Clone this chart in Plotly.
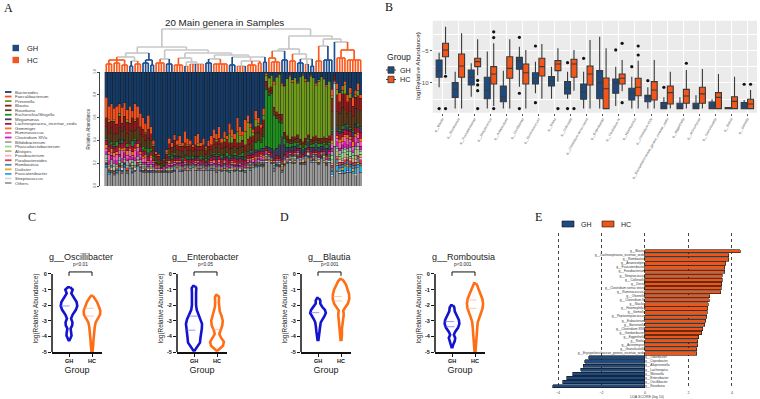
import numpy as np
import plotly.graph_objects as go

W, H = 760, 399
def X(px): return px / W
def Y(py): return 1 - py / H

SANS = "Liberation Sans, Arial, sans-serif"
SERIF = "Liberation Serif, Times New Roman, serif"
GH_COL = "#1d4a80"
HC_COL = "#f1561d"

# ---------------- Panel A : 20 main genera ----------------
genera = ["Bacteroides", "Faecalibacterium", "Prevotella", "Blautia", "Roseburia",
          "Escherichia/Shigella", "Megamonas", "Lachnospiracea_incertae_sedis", "Gemmiger",
          "Ruminococcus", "Clostridium XlVa", "Bifidobacterium", "Phascolarctobacterium",
          "Alistipes", "Fusobacterium", "Parabacteroides", "Romboutsia", "Dialister",
          "Fusicatenibacter", "Streptococcus", "Others"]
genus_colors = ["#163a66", "#f0501e", "#6f9a1c", "#8c1c1c", "#5a3a1a", "#1f8f1f", "#3d3d5c",
                "#b0143a", "#f07820", "#f25fb0", "#e01ab8", "#a6a6a6", "#8fdc9a", "#c2b27a",
                "#f2b3c6", "#e23b3b", "#4a86b8", "#f5a21e", "#28a8f0", "#d8d8d8", "#9a9a9a"]

# sample groups in dendrogram order (H = HC, G = GH)
groups = ("HHHHHHHHH" "GG" "HHH" "GGGGG" "HHHH" "GGG" "HHHH" "G" "HHH" "G" "HHH" "GGG"
          "HHHHHH" "GGG" "HHH" "G" "HHHHHH" "GG" "HHHHH" "GGG" "HHH" "GGG" "H" "GGG"
          "HHH" "GGGGG" "HHHHHHHHHH")

bacteroides = [22,30,28,32,30,28,31,27,33,30,34,28,30,36,
               40,45,38,48,60,70,72,78,76,68,58,62,
               55,60,56,62,52,58,60,64,56,54,62,58,65,60,56,
               50,54,48,58,52,56,45,50,54,40,48,52,42,38,45,50,34,40,46,32,
               1,5,3,8,4,2,10,12,6,3,7,5,9,4,2,6,8,3,5,10,7,4,6,11,8,
               15,3,10,18,12,8,20,14,22,16,10,20]
faecalibacterium = [18,12,15,10,16,8,14,12,9,15,6,14,10,12,
                    10,8,12,6,4,2,2,0,1,3,5,4,
                    5,4,8,3,10,6,4,2,8,9,3,6,2,5,8,
                    8,5,10,4,6,3,9,7,5,12,8,4,10,6,4,3,8,5,3,6,
                    2,1,0,3,1,0,2,1,0,1,2,0,1,0,1,2,0,1,0,2,1,0,1,2,0,
                    6,0,5,8,4,3,6,5,8,4,6,3]
prevotella = [0,2,0,1,0,3,0,0,2,0,0,1,0,0,
              0,1,0,0,1,0,0,0,0,1,0,0,
              0,0,1,0,0,1,0,0,0,2,0,0,1,0,0,
              0,2,0,0,3,0,8,5,0,10,6,4,12,15,8,3,6,2,0,4,
              5,8,10,20,30,35,25,40,50,55,48,52,45,55,58,50,47,55,52,44,50,54,50,45,48,
              2,0,5,0,3,8,0,4,0,2,5,0]
blautia = [8,10,6,12,8,10,7,9,10,6,12,8,9,7,
           7,6,8,6,4,3,3,2,2,3,4,4,
           5,4,4,5,4,4,5,4,4,4,4,5,4,4,4,
           6,5,6,5,5,6,5,5,6,5,4,5,5,5,6,5,6,6,6,7,
           4,3,3,4,3,3,5,2,3,2,3,2,3,2,2,3,2,2,3,3,2,3,2,3,3,
           12,2,15,10,12,14,10,12,9,10,12,11]
roseburia = [10,8,12,9,7,10,8,11,9,10,8,7,10,9,
             8,7,9,7,5,3,3,2,2,3,5,4,
             6,5,5,5,6,5,5,4,5,5,5,5,4,5,5,
             7,6,7,6,6,6,6,6,6,7,6,6,6,6,6,7,8,7,7,8,
             3,4,3,3,3,4,3,3,3,2,3,3,4,3,3,3,2,3,3,3,3,2,3,3,3,
             15,2,12,14,16,12,10,14,12,13,12,14]
escherichia = [2,0,3,1,4,0,2,1,3,0,5,2,1,0,
               3,2,4,2,2,1,1,1,1,1,2,2,
               2,1,0,2,1,2,1,2,1,0,2,1,2,1,0,
               1,2,1,2,0,3,2,1,2,1,2,3,1,0,2,1,6,8,5,10,
               50,45,48,30,26,20,12,6,4,3,2,3,2,3,2,3,2,2,3,2,3,2,2,3,2,
               2,0,1,2,3,1,2,1,2,1,2,1]
megamonas = [0,3,0,2,0,4,1,0,0,2,0,3,0,1,
             2,0,3,1,0,1,0,1,0,0,2,1,
             2,2,1,2,2,1,2,1,2,1,2,2,1,2,2,
             2,3,2,2,3,2,3,2,3,2,2,3,2,3,2,3,3,2,3,3,
             2,3,4,8,6,10,20,8,4,3,5,4,3,4,4,3,5,4,3,5,4,3,4,5,4,
             3,0,4,2,3,4,3,2,4,3,2,4]
lachnospiracea = [4,5,3,4,5,3,4,6,3,4,5,4,3,5,
                  4,3,4,3,2,2,1,1,1,2,2,2,
                  3,2,3,2,3,2,3,2,2,3,2,3,2,2,3,
                  3,2,3,3,2,3,3,2,3,3,3,2,3,3,2,3,3,3,2,3,
                  2,2,2,2,3,2,2,2,2,2,2,2,2,2,1,2,2,2,2,2,2,2,2,2,2,
                  5,1,4,5,4,5,4,5,4,5,4,5]
gemmiger = [3,2,4,3,2,3,2,3,4,2,3,2,3,2,
            2,3,1,2,1,1,1,0,1,1,2,1,
            1,1,1,0,1,1,1,0,1,1,0,1,0,1,1,
            1,1,2,1,1,1,1,1,2,1,1,1,1,2,1,2,2,1,2,2,
            1,1,0,1,1,0,1,1,1,0,1,1,0,1,1,0,1,1,0,1,1,0,1,1,0,
            3,0,2,3,4,2,3,2,4,3,2,3]
ruminococcus = [3,6,2,4,6,3,7,2,3,5,2,6,4,3,
                3,4,2,3,2,1,1,1,1,1,2,2,
                2,1,1,1,2,1,1,1,2,1,1,1,1,1,2,
                2,1,2,1,2,1,1,2,1,1,2,1,1,1,2,2,1,2,2,2,
                1,0,1,1,0,1,1,0,1,1,0,1,1,0,1,1,0,1,1,0,1,1,0,1,1,
                4,0,3,5,3,4,6,3,4,5,3,4]
clostridium_xlva = [2,3,4,2,3,2,3,4,2,3,2,3,4,2,
                    2,2,2,3,2,1,1,0,1,1,1,1,
                    1,1,2,1,1,1,0,1,1,2,1,0,1,1,1,
                    1,2,1,1,1,2,1,1,1,1,1,2,1,1,1,1,2,1,2,1,
                    1,1,1,0,1,1,0,1,1,1,1,0,1,1,0,1,1,1,0,1,1,0,1,1,1,
                    3,0,4,2,3,5,3,4,2,3,4,3]
bifidobacterium = [4,2,5,3,2,4,3,2,4,3,2,4,3,2,
                   2,2,1,2,1,1,1,1,1,1,1,1,
                   1,1,1,1,1,1,1,1,1,1,1,1,1,1,1,
                   1,1,1,1,1,1,1,1,1,1,1,1,1,1,2,1,1,2,1,1,
                   2,1,1,2,1,1,2,1,2,1,2,1,1,2,1,2,1,1,2,1,2,1,1,2,1,
                   3,2,2,3,4,2,3,4,2,3,3,2]
phascolarctobacterium = [2,0,1,3,0,2,1,0,2,0,3,1,0,2,
                         1,1,1,1,1,0,0,0,0,1,1,1,
                         1,0,1,0,1,0,1,0,1,0,1,0,0,1,0,
                         1,0,1,0,1,0,1,0,1,0,1,0,1,0,1,1,0,1,1,1,
                         1,1,0,1,1,2,1,1,0,1,1,2,1,0,1,1,2,0,1,1,0,1,2,1,1,
                         4,0,3,2,5,3,2,4,3,5,3,2]
alistipes = [1,2,1,0,2,1,1,2,0,1,2,1,1,2,
             1,1,0,1,1,0,1,0,0,1,1,1,
             0,1,0,1,0,1,0,1,0,1,0,1,0,0,1,
             0,1,0,1,0,1,0,1,0,1,0,1,0,1,1,0,1,1,0,1,
             1,0,1,1,0,1,1,2,1,1,0,1,1,1,2,1,0,1,1,1,2,1,1,0,1,
             3,0,4,3,2,4,3,2,3,4,5,3]
fusobacterium = [1,0,2,1,0,1,2,1,0,1,0,2,1,0,
                 1,0,1,1,0,1,0,0,0,0,1,0,
                 1,0,1,0,0,1,0,0,1,0,0,1,0,1,0,
                 1,0,1,0,1,0,0,1,0,0,1,0,0,1,0,1,0,1,1,0,
                 0,1,0,0,1,0,0,1,0,0,1,0,0,1,0,0,1,0,0,1,0,0,1,0,0,
                 2,0,1,2,1,2,1,2,1,2,1,2]
parabacteroides = [1,1,0,2,1,1,0,1,2,1,1,0,2,1,
                   1,1,1,0,1,0,0,1,0,0,0,1,
                   0,1,0,1,1,0,1,0,0,1,1,0,1,0,1,
                   0,1,0,1,0,1,0,0,1,0,0,1,0,1,1,0,1,0,1,1,
                   1,0,1,1,0,1,1,0,1,1,0,1,1,0,1,1,0,1,1,0,1,1,0,1,1,
                   2,0,2,3,2,3,2,3,2,3,2,3]
romboutsia = [2,1,0,1,2,0,1,2,1,0,2,1,0,2,
              0,1,0,1,0,1,0,0,1,0,0,0,
              1,0,1,0,1,0,0,1,0,1,0,0,1,0,1,
              1,0,1,0,1,0,1,0,0,1,0,0,1,0,1,1,1,0,1,1,
              1,1,0,1,1,0,1,1,0,1,1,0,1,1,0,1,1,0,1,1,0,1,1,0,1,
              2,0,3,2,3,2,3,2,3,2,3,2]
dialister = [0,1,0,1,0,1,0,0,1,0,1,0,1,0,
             0,1,0,0,0,0,1,0,0,0,1,0,
             0,1,0,0,0,1,0,0,1,0,0,1,0,0,0,
             0,1,0,0,1,0,0,1,0,0,1,0,0,1,0,0,1,0,0,1,
             0,1,1,0,0,1,0,1,0,0,1,1,0,0,1,0,1,0,0,1,0,0,1,1,0,
             1,0,2,1,2,1,2,1,2,1,2,1]
fusicatenibacter = [1,2,1,0,1,2,1,1,0,2,1,0,1,1,
                    1,0,1,1,0,0,0,0,0,1,0,1,
                    1,0,0,1,0,0,1,0,0,0,1,0,0,1,0,
                    1,0,0,1,0,1,0,0,1,0,0,1,0,0,1,0,0,1,0,0,
                    0,0,1,0,1,0,0,0,1,0,0,1,0,1,0,0,0,1,0,0,1,0,0,0,1,
                    3,0,4,2,3,5,3,4,2,4,3,5]
streptococcus = [1,0,1,0,1,0,1,0,1,0,1,0,1,0,
                 0,0,0,0,1,0,0,0,0,0,0,0,
                 0,0,1,0,0,0,0,1,0,0,0,0,0,0,0,
                 0,1,0,0,0,0,1,0,0,0,0,0,1,0,0,1,0,0,1,0,
                 1,0,0,1,0,0,1,0,0,1,0,0,1,0,0,1,0,0,1,0,0,1,0,0,1,
                 2,55,1,2,0,1,2,0,1,2,1,0]

middle = [faecalibacterium, prevotella, blautia, roseburia, escherichia, megamonas,
          lachnospiracea, gemmiger, ruminococcus, clostridium_xlva, bifidobacterium,
          phascolarctobacterium, alistipes, fusobacterium, parabacteroides, romboutsia,
          dialister, fusicatenibacter, streptococcus]
n_samples = len(bacteroides)
others = [100 - bacteroides[i] - sum(m[i] for m in middle) for i in range(n_samples)]
assert min(others) >= 0, others
series_A = [bacteroides] + middle + [others]

# dendrogram: [height, child, child, ...]; leaves are sample indices
tree = [43,
        [25,
         [19,
          [15, [12, [8, 0, 1, 2], [9, 3, 4, 5], [7, 6, 7, 8]], [11, [6, 9, 10], [8, 11, 12, 13]]],
          [12, [9, 14, 15, 16], [7, 17, 18]]],
         [22,
          [13, [9, 19, 20, 21, 22], [8, 23, 24, 25]],
          [19,
           [14, [7, 26, 27, 28, 29], [10, [6, 30, 31], [8, 32, 33, 34, 35, 36, 37]]],
           [17,
            [13, [9, 38, 39, 40], [8, 41, 42, 43, 44, 45, 46]],
            [15, [7, 47, 48, 49], [11, [6, 50, 51, 52, 53], [7, 54, 55, 56, 57], [9, 58, 59]],
             [10, 60, 61]]]]]],
        [36,
         [23,
          [21, [14, 62, [10, 63, 64, 65, 66]], [12, 67, 68, 69]],
          [18, [11, 70, 71, 72], [13, [9, 73, 74, 75], [8, 76, 77], [6, 78, 79]]]],
         [33,
          [26, [11, 80, 81, 82], [12, 83, 84, 85, 86]],
          [30, 87, [22, [14, 88, 89, 90, 91], [12, 92, 93, 94, 95, 96, 97]]]]]]

# ---------------- Panel B : box plots ----------------
b_genera = ["g__Blautia", "g__Romboutsia", "g__Fusicatenibacter", "g__Streptococcus",
            "g__Anaerostipes", "g__Oscillibacter", "g__Ruminococcus2", "g__Dorea",
            "g__Collinsella", "g__Clostridium sensu stricto", "g__Enterobacter",
            "g__Clostridium IV", "g__Haemophilus", "g__Clostridium XlVb",
            "g__Erysipelotrichaceae_genera_incertae_sedis", "g__Eggerthella",
            "g__Actinomyces", "g__Granulicatella", "g__Rothia", "g__Gemella"]
gh_q1 = [-9.11,-12.24,-10.31,-12.45,-12.92,-7.86,-10.16,-10.47,-11.72,-12.55,-12.45,-11.6,-12.66,-12.92,-14.0,-14.0,-14.0,-14.0,-14.0,-14.0]
gh_med = [-8.13,-10.99,-9.11,-11.09,-12.14,-6.5,-9.27,-9.64,-10.83,-11.35,-9.95,-9.95,-11.5,-12.14,-13.7,-13.7,-13.7,-13.6,-14.0,-13.6]
gh_q3 = [-6.41,-9.95,-7.97,-9.11,-10.47,-6.0,-8.39,-9.01,-9.79,-10.16,-8.07,-9.38,-10.83,-11.93,-13.07,-13.17,-13.17,-12.97,-13.85,-13.07]
gh_lo = [-10.67,-14.0,-12.14,-14.0,-14.0,-10.57,-11.6,-12.45,-12.45,-14.0,-14.0,-13.6,-14.0,-14.0,-14.0,-14.0,-14.0,-14.0,-14.0,-14.0]
gh_hi = [-5.26,-8.23,-6.92,-5.1,-8.07,-4.33,-6.67,-7.45,-8.23,-8.23,-2.76,-7.45,-9.01,-10.67,-12.24,-12.24,-11.9,-12.55,-13.85,-12.66]
gh_out_idx = [0, 5, 5, 5, 6, 6, 8, 8, 9, 11, 12, 13, 14, 19]
gh_out_val = [-14.0, -2.86, -11.6, -14.0, -4.22, -13.07, -6.82, -14.0, -6.14, -4.84, -7.45, -9.64, -10.67, -10.2]
hc_q1 = [-5.89,-9.11,-7.45,-10.16,-9.27,-10.16,-8.91,-8.07,-9.11,-10.31,-14.0,-10.16,-12.0,-12.66,-13.28,-13.17,-13.17,-14.0,-14.0,-14.0]
hc_med = [-4.84,-7.34,-6.67,-8.6,-7.71,-8.39,-7.45,-7.03,-7.03,-8.6,-10.89,-9.27,-10.67,-11.09,-11.5,-12.03,-11.7,-12.24,-12.87,-13.28]
hc_q3 = [-3.8,-5.47,-6.14,-7.45,-5.89,-7.03,-6.14,-6.51,-6.3,-7.34,-9.22,-8.6,-9.27,-9.79,-10.47,-11.0,-10.67,-11.5,-12.14,-12.55]
hc_lo = [-8.6,-14.0,-8.8,-13.6,-14.0,-14.0,-12.45,-9.79,-11.2,-14.0,-14.0,-11.3,-14.0,-14.0,-14.0,-14.0,-14.0,-14.0,-14.0,-14.0]
hc_hi = [-1.2,-2.23,-3.17,-3.8,-3.17,-4.84,-3.91,-4.58,-4.84,-3.28,-4.58,-6.4,-6.51,-6.4,-8.23,-7.97,-7.8,-8.6,-9.01,-11.09]
hc_out_idx = [0, 0, 2, 2, 2, 2, 3, 3, 3, 7, 8, 11, 11, 12, 12, 15, 19]
hc_out_val = [-8.95, -14.0, -9.6, -10.3, -11.2, -14.0, -2.0, -2.9, -14.0, -14.0, -14.0, -3.8, -13.07, -4.22, -5.63, -6.92, -10.2]

# ---------------- Panels C / D : violin profiles ----------------
osc_gh_y = [-0.85,-1.0,-1.25,-1.5,-1.8,-2.05,-2.3,-2.6,-2.85,-3.1,-3.3,-3.5,-3.75,-3.95,-4.1,-4.25]
osc_gh_w = [0.05,0.16,0.10,0.22,0.33,0.36,0.30,0.16,0.09,0.15,0.14,0.07,0.10,0.11,0.07,0.02]
osc_gh_q = [-2.05]
osc_hc_y = [-1.4,-1.55,-1.8,-2.1,-2.35,-2.6,-2.85,-3.1,-3.4,-3.7,-4.0,-4.3,-4.6,-4.85,-5.0]
osc_hc_w = [0.04,0.12,0.22,0.30,0.36,0.35,0.25,0.16,0.12,0.09,0.07,0.06,0.05,0.04,0.02]
osc_hc_q = [-2.2, -2.7]
ent_gh_y = [-0.77,-0.9,-1.2,-1.6,-2.0,-2.3,-2.6,-2.9,-3.2,-3.5,-3.8,-4.1,-4.4,-4.65,-4.9]
ent_gh_w = [0.04,0.10,0.09,0.08,0.09,0.12,0.20,0.30,0.35,0.34,0.30,0.28,0.26,0.16,0.03]
ent_gh_q = [-2.7, -3.6]
ent_hc_y = [-1.35,-1.5,-1.8,-2.1,-2.4,-2.7,-3.0,-3.3,-3.6,-3.85,-4.1,-4.35,-4.6,-4.8,-4.9]
ent_hc_w = [0.04,0.09,0.08,0.09,0.12,0.20,0.25,0.23,0.14,0.10,0.18,0.30,0.26,0.12,0.03]
ent_hc_q = [-3.55]
bla_gh_y = [-1.55,-1.7,-1.9,-2.1,-2.3,-2.5,-2.7,-2.9,-3.1,-3.4,-3.7,-4.0,-4.23]
bla_gh_w = [0.04,0.10,0.10,0.18,0.30,0.34,0.28,0.18,0.12,0.09,0.07,0.05,0.02]
bla_gh_q = [-2.48]
bla_hc_y = [-0.33,-0.45,-0.7,-1.0,-1.3,-1.6,-1.9,-2.15,-2.35,-2.6,-2.85,-3.1,-3.5,-3.9,-4.23]
bla_hc_w = [0.04,0.12,0.22,0.30,0.35,0.36,0.30,0.18,0.10,0.12,0.10,0.06,0.04,0.04,0.02]
bla_hc_q = [-1.45, -1.73]
rom_gh_y = [-2.0,-2.15,-2.4,-2.7,-2.95,-3.2,-3.45,-3.7,-3.9,-4.1,-4.3,-4.5,-4.7]
rom_gh_w = [0.04,0.10,0.12,0.22,0.30,0.32,0.26,0.14,0.08,0.14,0.12,0.06,0.02]
rom_gh_q = [-3.05, -3.38]
rom_hc_y = [-0.6,-0.75,-1.0,-1.3,-1.6,-1.9,-2.2,-2.5,-2.8,-3.1,-3.4,-3.8,-4.2,-4.6,-5.0]
rom_hc_w = [0.04,0.10,0.16,0.24,0.32,0.35,0.33,0.26,0.18,0.12,0.10,0.08,0.07,0.05,0.02]
rom_hc_q = [-1.67, -2.2]
violin_titles = ["g__Oscillibacter", "g__Enterobacter", "g__Blautia", "g__Romboutsia"]
violin_p = ["p<0.01", "p<0.05", "p<0.001", "p<0.001"]
violin_groups = ["GH", "HC"]
violin_ticks = [0, -1, -2, -3, -4, -5]

# ---------------- Panel E : LDA ----------------
lda_hc_names = ["g__Blautia", "g__Lachnospiracea_incertae_sedis", "g__Romboutsia", "g__Anaerostipes",
                "g__Fusicatenibacter", "g__Fusobacterium", "g__Streptococcus", "g__Collinsella",
                "g__Dorea", "g__Clostridium sensu stricto", "g__Ruminococcus2", "g__Olsenella",
                "g__Clostridium IV", "g__Slackia", "g__Haemophilus", "g__Gemella",
                "g__Peptostreptococcus", "g__Eubacterium", "g__Barnesiella", "g__Clostridium XlVb",
                "g__Gordonibacter", "g__Eggerthella", "g__Rothia", "g__Actinomyces",
                "g__Granulicatella", "g__Erysipelotrichaceae_genera_incertae_sedis"]
lda_hc = [4.39,3.86,3.86,3.71,3.68,3.68,3.56,3.56,3.53,3.5,3.48,2.98,2.95,2.92,2.88,2.86,2.85,2.8,2.76,2.65,2.62,2.48,2.42,2.42,2.39,2.39]
lda_gh_names = ["g__Odoribacter", "g__Coprobacter", "g__Alloprevotella", "g__Lachnospira",
                "g__Weissella", "g__Enterobacter", "g__Oscillibacter", "g__Roseburia"]
lda_gh = [-2.58,-2.77,-2.83,-2.95,-3.33,-3.59,-3.79,-4.25]
lda_ticks = [-4, -2, 0, 2, 4]

fig = go.Figure()
layout = dict(width=W, height=H, margin=dict(l=0, r=0, t=0, b=0, autoexpand=False),
              paper_bgcolor="white", plot_bgcolor="rgba(0,0,0,0)",
              barmode="stack", showlegend=False, font=dict(family=SANS, color="#222"))
shapes, annots = [], []

def note(text, x, y, size, xanchor="center", yanchor="middle", xref="paper", yref="paper",
         family=SANS, color="#222", angle=0):
    annots.append(dict(text=text, x=x, y=y, xref=xref, yref=yref, xanchor=xanchor,
                       yanchor=yanchor, showarrow=False, textangle=angle,
                       font=dict(family=family, size=size, color=color)))

# ---- A: stacked bars
x_idx = list(range(n_samples))
for name, vals, col in reversed(list(zip(genera, series_A, genus_colors))):
    fig.add_trace(go.Bar(x=x_idx, y=[v / 100 for v in vals], width=1.0, name=name,
                         marker=dict(color=col, line=dict(color="#1a1a1a",
                                                          width=[0.32 if v > 0 else 0 for v in vals])),
                         xaxis="x", yaxis="y", hoverinfo="skip"))
layout["xaxis"] = dict(domain=[X(100), X(362)], range=[-2.4, n_samples - 0.5], visible=False,
                       anchor="y", automargin=False)
layout["yaxis"] = dict(domain=[Y(186), Y(72)], range=[0, 1], tickvals=[0, 0.2, 0.4, 0.6, 0.8, 1.0],
                       ticktext=["0.0", "0.2", "0.4", "0.6", "0.8", "1.0"], tickangle=-90,
                       tickfont=dict(size=3.6, color="#444"), ticks="outside", ticklen=2,
                       tickwidth=0.6, tickcolor="#444", showline=True, linecolor="#444",
                       linewidth=0.6, showgrid=False, zeroline=False, anchor="x", automargin=False,
                       title=dict(text="Relative Abundance", font=dict(size=4.6, color="#333"), standoff=2))

# ---- A: dendrogram
segs = {"H": ([], []), "G": ([], []), "mix": ([], [])}
def colkey(gs):
    return next(iter(gs)) if len(gs) == 1 else "mix"
def walk(node):
    if isinstance(node, int):
        return float(node), 0.0, {groups[node]}
    h = node[0]
    kids = [walk(c) for c in node[1:]]
    xs = [k[0] for k in kids]
    gs = set()
    for k in kids:
        gs |= k[2]
    sx, sy = segs[colkey(gs)]
    sx += [min(xs), max(xs), None]; sy += [h, h, None]
    for kx, kh, kg in kids:
        cx, cy = segs[colkey(kg)]
        cx += [kx, kx, None]; cy += [h, kh, None]
    return (min(xs) + max(xs)) / 2, h, gs
walk(tree)
for key, col in [("mix", "#c8c8c8"), ("H", "#fa5a1e"), ("G", "#1f4f90")]:
    fig.add_trace(go.Scatter(x=segs[key][0], y=segs[key][1], mode="lines",
                             line=dict(color=col, width=1.7), xaxis="x2", yaxis="y2", hoverinfo="skip"))
layout["xaxis2"] = dict(domain=[X(100), X(362)], range=[-2.4, n_samples - 0.5], visible=False,
                        anchor="y2", automargin=False)
layout["yaxis2"] = dict(domain=[Y(72), Y(28)], range=[0, 44], visible=False, anchor="x2",
                        automargin=False)

note("20 Main genera in Samples", X(225), Y(22), 9.8)
note("A", X(2), Y(8), 12, xanchor="left", family=SERIF, color="#111")
for i, (g, col) in enumerate([("GH", "#1d4a80"), ("HC", "#f4551c")]):
    yc = 48 + i * 12
    shapes.append(dict(type="rect", xref="paper", yref="paper", x0=X(12.5), x1=X(19),
                       y0=Y(yc + 3.2), y1=Y(yc - 3.2), fillcolor=col, line=dict(width=0)))
    note(g, X(25), Y(yc), 7.5, xanchor="left")
for i, (g, col) in enumerate(zip(genera, genus_colors)):
    yc = 92 + i * 4.55
    shapes.append(dict(type="rect", xref="paper", yref="paper", x0=X(5), x1=X(11.5),
                       y0=Y(yc + 0.9), y1=Y(yc - 0.9), fillcolor=col, line=dict(width=0)))
    note(g, X(12.5), Y(yc), 4.4, xanchor="left", color="#444")

# ---- B: boxplots
shapes.append(dict(type="rect", xref="x3 domain", yref="y3 domain", x0=0, x1=1, y0=0, y1=1,
                   fillcolor="#ebebeb", line=dict(width=0), layer="below"))
pos = list(range(len(b_genera)))
for off, q1, md, q3, lo, hi, col in [(-0.2, gh_q1, gh_med, gh_q3, gh_lo, gh_hi, GH_COL),
                                     (0.2, hc_q1, hc_med, hc_q3, hc_lo, hc_hi, HC_COL)]:
    fig.add_trace(go.Box(x=[p + off for p in pos], q1=q1, median=md, q3=q3, lowerfence=lo,
                         upperfence=hi, width=0.37, whiskerwidth=0, fillcolor=col,
                         line=dict(color="#3a3a3a", width=1.1), boxpoints=False,
                         xaxis="x3", yaxis="y3", hoverinfo="skip"))
for off, oi, ov in [(-0.2, gh_out_idx, gh_out_val), (0.2, hc_out_idx, hc_out_val)]:
    fig.add_trace(go.Scatter(x=[i + off for i in oi], y=ov, mode="markers",
                             marker=dict(color="#111", size=3.2), xaxis="x3", yaxis="y3",
                             hoverinfo="skip", cliponaxis=False))
layout["xaxis3"] = dict(domain=[X(432.7), X(757)], range=[-0.6, 19.6], tickvals=pos,
                        ticktext=b_genera, tickangle=-60, tickfont=dict(size=3.3, color="#555"),
                        showgrid=True, gridcolor="white", gridwidth=1, ticks="outside",
                        ticklen=2, tickcolor="#555", tickwidth=0.6, zeroline=False, showline=False,
                        anchor="y3", automargin=False)
layout["yaxis3"] = dict(domain=[Y(112.7), Y(20.7)], range=[-14.64, -0.27], tick0=0, dtick=5,
                        tickfont=dict(size=6, color="#4d4d4d"), showgrid=True, gridcolor="white",
                        gridwidth=1, ticks="outside", ticklen=2, tickcolor="#555", tickwidth=0.6,
                        zeroline=False, minor=dict(dtick=2.5, tick0=0, showgrid=True,
                                                   gridcolor="white", gridwidth=0.5),
                        anchor="x3", automargin=False)
note("log(Relative Abundance)", X(418), Y(66.7), 6.2, angle=-90)
note("B", X(383), Y(7), 12, xanchor="left", family=SERIF, color="#111")
note("Group", X(385), Y(57), 8.6, xanchor="left")
for i, (g, col) in enumerate([("GH", GH_COL), ("HC", HC_COL)]):
    yc = 70 + i * 9.5
    shapes.append(dict(type="line", xref="paper", yref="paper", x0=X(386), x1=X(396),
                       y0=Y(yc), y1=Y(yc), line=dict(color="#3a3a3a", width=1)))
    shapes.append(dict(type="rect", xref="paper", yref="paper", x0=X(388), x1=X(394),
                       y0=Y(yc + 3.2), y1=Y(yc - 3.2), fillcolor=col,
                       line=dict(color="#3a3a3a", width=0.9)))
    note(g, X(398), Y(yc), 7.2, xanchor="left")

# ---- C / D: violins
violin_data = [(osc_gh_y, osc_gh_w, osc_gh_q, osc_hc_y, osc_hc_w, osc_hc_q),
               (ent_gh_y, ent_gh_w, ent_gh_q, ent_hc_y, ent_hc_w, ent_hc_q),
               (bla_gh_y, bla_gh_w, bla_gh_q, bla_hc_y, bla_hc_w, bla_hc_q),
               (rom_gh_y, rom_gh_w, rom_gh_q, rom_hc_y, rom_hc_w, rom_hc_q)]
axis_px = [52, 177, 301, 435]
vcols = [("#1414d0", "#6a6aff"), ("#ff6e14", "#ffaa88")]
for k, (data, ax_px) in enumerate(zip(violin_data, axis_px)):
    xa, ya = "x%d" % (4 + k), "y%d" % (4 + k)
    for gi in range(2):
        ys, ws, qs = data[gi * 3], data[gi * 3 + 1], data[gi * 3 + 2]
        cx = gi + 1
        col, qcol = vcols[gi]
        xs = [cx + w for w in ws] + [cx - w for w in reversed(ws)] + [cx + ws[0]]
        yy = list(ys) + list(reversed(ys)) + [ys[0]]
        fig.add_trace(go.Scatter(x=xs, y=yy, mode="lines", fill="toself", fillcolor="white",
                                 line=dict(color=col, width=2.6), xaxis=xa, yaxis=ya,
                                 hoverinfo="skip"))
        for q in qs:
            hw = float(np.interp(q, ys[::-1], ws[::-1]))
            fig.add_trace(go.Scatter(x=[cx - hw, cx + hw], y=[q, q], mode="lines",
                                     line=dict(color=qcol, width=0.7, dash="dash"),
                                     xaxis=xa, yaxis=ya, hoverinfo="skip"))
    # significance bracket
    fig.add_trace(go.Scatter(x=[1, 1, 2, 2], y=[-0.12, 0.13, 0.13, -0.12], mode="lines",
                             line=dict(color="#111", width=1), xaxis=xa, yaxis=ya, hoverinfo="skip"))
    note(violin_p[k], 1.5, 0.3, 4.8, yanchor="bottom", xref=xa, yref=ya)
    note(violin_titles[k], 1.5, Y(257), 9, xref=xa)
    layout["xaxis%d" % (4 + k)] = dict(domain=[X(ax_px), X(ax_px + 50)], range=[1 - 17 / 23, 1 + 33 / 23],
                                       tickvals=[1, 2], ticktext=["<b>%s</b>" % g for g in violin_groups],
                                       tickfont=dict(size=5.5, color="#111"), ticks="outside", ticklen=3,
                                       tickwidth=1.2, tickcolor="#111", showline=True, linecolor="#111",
                                       linewidth=1.5, showgrid=False, zeroline=False,
                                       title=dict(text="Group", font=dict(size=9, color="#222"), standoff=3),
                                       anchor=ya, automargin=False)
    layout["yaxis%d" % (4 + k)] = dict(domain=[Y(352), Y(264.6)], range=[-5, 0.6],
                                       tickvals=violin_ticks,
                                       ticktext=["<b>%d</b>" % t for t in violin_ticks],
                                       tickfont=dict(size=5.5, color="#111"), ticks="outside", ticklen=3,
                                       tickwidth=1.2, tickcolor="#111", showline=False, showgrid=False,
                                       zeroline=False, anchor=xa, automargin=False,
                                       title=dict(text="log(Relative Abundance)",
                                                  font=dict(size=6.4, color="#222"), standoff=2))
    shapes.append(dict(type="line", xref="%s domain" % xa, yref=ya, x0=0, x1=0, y0=-5, y1=0,
                       line=dict(color="#111", width=1.5)))
for lab, px in [("C", 26), ("D", 278)]:
    note(lab, X(px), Y(217), 12, xanchor="left", family=SERIF, color="#111")

# ---- E: LDA
names_all = lda_hc_names + lda_gh_names
fig.add_trace(go.Bar(x=lda_hc, y=lda_hc_names, orientation="h", width=0.8,
                     marker=dict(color="#ee5518", line=dict(color="#111", width=0.6)),
                     xaxis="x8", yaxis="y8", hoverinfo="skip"))
fig.add_trace(go.Bar(x=lda_gh, y=lda_gh_names, orientation="h", width=0.8,
                     marker=dict(color="#1d4a80", line=dict(color="#111", width=0.6)),
                     xaxis="x8", yaxis="y8", hoverinfo="skip"))
fig.add_trace(go.Scatter(x=[0] * len(lda_hc_names), y=lda_hc_names, text=lda_hc_names, mode="text",
                         textposition="middle left", textfont=dict(size=3.2, color="#333"),
                         xaxis="x8", yaxis="y8", hoverinfo="skip"))
fig.add_trace(go.Scatter(x=[0] * len(lda_gh_names), y=lda_gh_names, text=lda_gh_names, mode="text",
                         textposition="middle right", textfont=dict(size=3.2, color="#333"),
                         xaxis="x8", yaxis="y8", hoverinfo="skip"))
layout["xaxis8"] = dict(domain=[X(549.3), X(745)], range=[-4.4, 4.6], tickvals=lda_ticks,
                        tickfont=dict(size=3.6, color="#444"), showgrid=True, gridcolor="#444",
                        gridwidth=0.7, griddash="dot", zeroline=False, showline=False, ticks="",
                        title=dict(text="LDA SCORE (log 10)", font=dict(size=3.6, color="#444"),
                                   standoff=1), anchor="y8", automargin=False)
layout["yaxis8"] = dict(domain=[Y(389), Y(233)], type="category", categoryorder="array",
                        categoryarray=names_all, range=[len(names_all) - 0.3, -4.47],
                        showticklabels=False, showgrid=False, zeroline=False, anchor="x8",
                        automargin=False)
note("E", X(533), Y(217), 12, xanchor="left", family=SERIF, color="#111")
for i, (g, col) in enumerate([("GH", "#1d4a80"), ("HC", "#ee5518")]):
    x0 = 562 + i * 40
    shapes.append(dict(type="rect", xref="paper", yref="paper", x0=X(x0), x1=X(x0 + 12),
                       y0=Y(227), y1=Y(221), fillcolor=col, line=dict(color="#111", width=0.6)))
    note(g, X(x0 + 17), Y(224), 7, xanchor="left")

layout["shapes"] = shapes
layout["annotations"] = annots
fig.update_layout(**layout)
fig.write_html("out.html", config={"displayModeBar": False},
               post_script="document.body.style.margin='0';document.body.style.overflow='hidden';")
